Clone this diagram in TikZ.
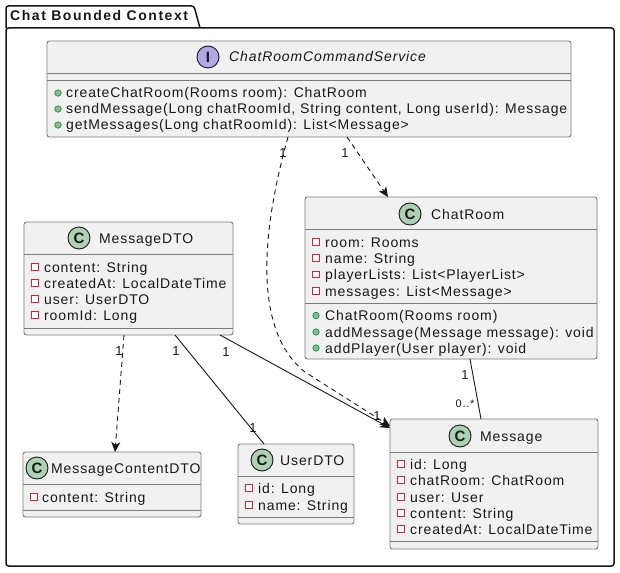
\documentclass[tikz,border=0pt]{standalone}
\usepackage{fontspec}
\setmainfont{Liberation Sans}[LetterSpace=6.3,BoldFeatures={LetterSpace=11}]
\usetikzlibrary{arrows.meta}
\definecolor{boxfill}{HTML}{F1F1F1}
\definecolor{boxline}{HTML}{7A7A7A}
\definecolor{ink}{HTML}{181818}
\definecolor{cgreen}{HTML}{ADD1B2}
\definecolor{ipurple}{HTML}{B4A7E5}
\definecolor{privred}{HTML}{C82930}
\definecolor{pubgreen}{HTML}{84BE84}
\definecolor{publine}{HTML}{038048}
\tikzset{
  classbox/.style={draw=boxline, fill=boxfill, rounded corners=2.5pt, line width=0.9pt, inner sep=0pt},
  sepline/.style={draw=boxline, line width=0.9pt},
  txt/.style={anchor=west, inner sep=0pt, text=ink, font=\fontsize{14}{16}\selectfont, text height=12pt, text depth=2pt},
  itxt/.style={txt, font=\fontsize{14}{16}\selectfont\itshape},
  badge/.style={circle, draw=ink, line width=0.9pt, minimum size=22pt, inner sep=0pt, text=ink,
                font=\fontsize{15}{15}\selectfont\bfseries},
  privicon/.style={draw=privred, line width=0.8pt, fill=white, minimum size=6.5pt, inner sep=0pt, rectangle},
  pubicon/.style={draw=publine, line width=0.6pt, fill=pubgreen, minimum size=6.5pt, inner sep=0pt, circle},
  rel/.style={draw=ink, line width=0.9pt},
  depline/.style={rel, dash pattern=on 5pt off 4pt},
  tip/.style={-{Stealth[length=10pt,width=9pt,inset=3pt]}},
  lbl/.style={inner sep=0pt, text=ink, font=\fontsize{13}{13}\selectfont},
  slbl/.style={inner sep=0pt, text=ink, font=\fontsize{11}{11}\selectfont},
}
\begin{document}
\begin{tikzpicture}[x=1pt,y=-1pt]
\useasboundingbox (0,0) rectangle (620,572);
\fill[white] (0,0) rectangle (620,572);

% package
\draw[ink, line width=1.5pt, rounded corners=2.5pt] (6,28) -- (6,6) -- (194,6) -- (200,28);
\draw[ink, line width=1.5pt, rounded corners=2.5pt] (6,28) rectangle (614,566);
\node[txt, font=\fontsize{14}{16}\selectfont\bfseries] (pkg) at (10,16) {Chat Bounded Context};

% ChatRoomCommandService
\node[classbox, minimum width=524pt, minimum height=96pt] (svc) at (309,89) {};
\draw[sepline] (47,73) -- (571,73);
\draw[sepline] (47,80) -- (571,80);
\node[badge, fill=ipurple] (svcI) at (208,57) {I};
\node[itxt] (svcN) at (229,57) {ChatRoomCommandService};
\node[pubicon] (svcm1i) at (58,93) {};
\node[txt] (svcm1) at (66,93) {createChatRoom(Rooms room): ChatRoom};
\node[pubicon] (svcm2i) at (58,109) {};
\node[txt] (svcm2) at (66,109) {sendMessage(Long chatRoomId, String content, Long userId): Message};
\node[pubicon] (svcm3i) at (58,125) {};
\node[txt] (svcm3) at (66,125) {getMessages(Long chatRoomId): List<Message>};

% ChatRoom
\node[classbox, minimum width=292pt, minimum height=162pt] (cr) at (451,278) {};
\draw[sepline] (305,229) -- (597,229);
\draw[sepline] (305,303) -- (597,303);
\node[badge, fill=cgreen] (crC) at (410,214) {C};
\node[txt] (crN) at (431,214) {ChatRoom};
\node[privicon] (cra1i) at (316,242) {};
\node[txt] (cra1) at (325,242) {room: Rooms};
\node[privicon] (cra2i) at (316,258) {};
\node[txt] (cra2) at (325,258) {name: String};
\node[privicon] (cra3i) at (316,274.5) {};
\node[txt] (cra3) at (325,274.5) {playerLists: List<PlayerList>};
\node[privicon] (cra4i) at (316,291) {};
\node[txt] (cra4) at (325,291) {messages: List<Message>};
\node[pubicon] (crm1i) at (316,315.5) {};
\node[txt] (crm1) at (325,315.5) {ChatRoom(Rooms room)};
\node[pubicon] (crm2i) at (316,332) {};
\node[txt] (crm2) at (325,332) {addMessage(Message message): void};
\node[pubicon] (crm3i) at (316,348) {};
\node[txt] (crm3) at (325,348) {addPlayer(User player): void};

% MessageDTO
\node[classbox, minimum width=209pt, minimum height=113pt] (md) at (128.5,278.5) {};
\draw[sepline] (24,254) -- (233,254);
\draw[sepline] (24,328) -- (233,328);
\node[badge, fill=cgreen] (mdC) at (79,238) {C};
\node[txt] (mdN) at (99,238) {MessageDTO};
\node[privicon] (mda1i) at (35,267) {};
\node[txt] (mda1) at (44,267) {content: String};
\node[privicon] (mda2i) at (35,283) {};
\node[txt] (mda2) at (44,283) {createdAt: LocalDateTime};
\node[privicon] (mda3i) at (35,299) {};
\node[txt] (mda3) at (44,299) {user: UserDTO};
\node[privicon] (mda4i) at (35,315) {};
\node[txt] (mda4) at (44,315) {roomId: Long};

% MessageContentDTO
\node[classbox, minimum width=178pt, minimum height=65pt] (mc) at (112,484.5) {};
\draw[sepline] (23,484) -- (201,484);
\draw[sepline] (23,510) -- (201,510);
\node[badge, fill=cgreen] (mcC) at (37,468) {C};
\node[txt] (mcN) at (51,468) {MessageContentDTO};
\node[privicon] (mca1i) at (34,497) {};
\node[txt] (mca1) at (42,497) {content: String};

% UserDTO
\node[classbox, minimum width=116pt, minimum height=80pt] (ud) at (296,484) {};
\draw[sepline] (238,476) -- (354,476);
\draw[sepline] (238,517) -- (354,517);
\node[badge, fill=cgreen] (udC) at (262,460) {C};
\node[txt] (udN) at (280,460) {UserDTO};
\node[privicon] (uda1i) at (249,488) {};
\node[txt] (uda1) at (258,488) {id: Long};
\node[privicon] (uda2i) at (249,505) {};
\node[txt] (uda2) at (258,505) {name: String};

% Message
\node[classbox, minimum width=208pt, minimum height=130pt] (msg) at (494,484) {};
\draw[sepline] (390,452) -- (598,452);
\draw[sepline] (390,541) -- (598,541);
\node[badge, fill=cgreen] (msgC) at (460,436) {C};
\node[txt] (msgN) at (480,436) {Message};
\node[privicon] (msa1i) at (401,464) {};
\node[txt] (msa1) at (410,464) {id: Long};
\node[privicon] (msa2i) at (401,480) {};
\node[txt] (msa2) at (410,480) {chatRoom: ChatRoom};
\node[privicon] (msa3i) at (401,497) {};
\node[txt] (msa3) at (410,497) {user: User};
\node[privicon] (msa4i) at (401,513) {};
\node[txt] (msa4) at (410,513) {content: String};
\node[privicon] (msa5i) at (401,529) {};
\node[txt] (msa5) at (410,529) {createdAt: LocalDateTime};

% connector end points on the boxes
\coordinate (svcA) at (347,137);
\coordinate (svcB) at (288,137);
\coordinate (crTop) at (388,197);
\coordinate (crBot) at (470,359);
\coordinate (mdA) at (124,335);
\coordinate (mdB) at (175,335);
\coordinate (mdC2) at (220,335);
\coordinate (mcTop) at (115,452);
\coordinate (udTop) at (264,444);
\coordinate (msgL) at (390,428);
\coordinate (msgL2) at (390,426);
\coordinate (msgTop) at (481,419);

% connectors
\draw[depline, tip] (svcA) -- (crTop);
\draw[depline, tip] (svcB) .. controls (262,230) and (252,330) .. (305,372) -- (msgL2);
\draw[depline, tip] (mdA) -- (mcTop);
\draw[rel] (mdB) -- (udTop);
\draw[rel, tip] (mdC2) -- (msgL);
\draw[rel] (crBot) -- (msgTop);

% multiplicities
\node[lbl] (l1) at (283,153) {1};
\node[lbl] (l2) at (345,153) {1};
\node[lbl] (l3) at (119,351) {1};
\node[lbl] (l4) at (176,351) {1};
\node[lbl] (l5) at (226,352) {1};
\node[lbl] (l6) at (253,428) {1};
\node[lbl] (l7) at (377,416) {1};
\node[lbl] (l8) at (465,375) {1};
\node[slbl] (l9) at (465,404) {0..*};
\end{tikzpicture}
\end{document}
